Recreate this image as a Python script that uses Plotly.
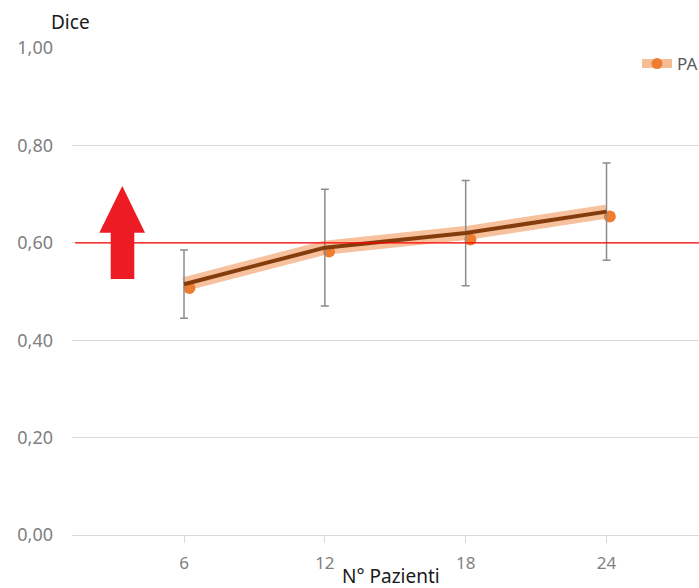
import plotly.graph_objects as go

# ---- data ----
pazienti = [6, 12, 18, 24]
dice_trend = [0.515, 0.590, 0.620, 0.664]
dice_err = [0.070, 0.120, 0.108, 0.100]
dot_x = [6.23, 12.18, 18.2, 24.14]
dice_pa = [0.507, 0.582, 0.607, 0.654]
threshold = 0.60
y_ticks = [0.0, 0.2, 0.4, 0.6, 0.8, 1.0]
series_name = "PA"

FONT = "Noto Sans"
GRAY_TXT = "#7F7F7F"
GRID = "#D9D9D9"

fig = go.Figure()

# light halo line
fig.add_trace(go.Scatter(
    x=pazienti, y=dice_trend, mode="lines",
    line=dict(color="rgba(244,177,131,0.8)", width=14, shape="linear"),
    hoverinfo="skip", showlegend=False))

# orange points
fig.add_trace(go.Scatter(
    x=dot_x, y=dice_pa, mode="markers",
    marker=dict(color="#ED7D31", size=12),
    showlegend=False))

# dark line with error bars
fig.add_trace(go.Scatter(
    x=pazienti, y=dice_trend, mode="lines",
    line=dict(color="#843C0C", width=4),
    error_y=dict(type="data", array=dice_err, visible=True,
                 color="#8C8C8C", thickness=1.5, width=4),
    showlegend=False))

# legend-only entry
fig.add_trace(go.Scatter(
    x=[None], y=[None], mode="lines+markers", name=series_name,
    line=dict(color="rgba(244,177,131,0.85)", width=9),
    marker=dict(color="#ED7D31", size=11),
    showlegend=True))

# threshold line
fig.add_shape(type="line", xref="paper", yref="y", x0=0.005, x1=1,
              y0=threshold, y1=threshold,
              line=dict(color="#FF0000", width=1.2), layer="above")

# red up arrow
fig.add_shape(type="path", xref="x", yref="y",
              path="M 2.877 0.5257 L 2.877 0.6207 L 2.391 0.6207 L 3.371 0.7166 "
                   "L 4.338 0.6207 L 3.882 0.6207 L 3.882 0.5257 Z",
              fillcolor="#ED1C24", line=dict(width=0), layer="above")

fig.add_annotation(text="Dice", xref="paper", yref="paper", x=-0.0016, y=1.053,
                   showarrow=False, xanchor="center", yanchor="middle",
                   font=dict(family=FONT, size=19, color="#1a1a1a"))
fig.add_annotation(text="N° Pazienti", xref="paper", yref="paper", x=0.509, y=-0.084,
                   showarrow=False, xanchor="center", yanchor="middle",
                   font=dict(family=FONT, size=19, color="#1a1a1a"))

fig.update_layout(
    width=699, height=588,
    margin=dict(l=72, r=0, t=48, b=53, autoexpand=False),
    paper_bgcolor="white", plot_bgcolor="white",
    separators=",.",
    font=dict(family=FONT, color=GRAY_TXT),
    showlegend=True,
    legend=dict(x=(637 - 72) / 627, y=1 + 2 / 487, xanchor="left", yanchor="top",
                bgcolor="rgba(0,0,0,0)", font=dict(family=FONT, size=17, color="#595959"),
                borderwidth=0),
    xaxis=dict(range=[1.228, 27.94], tickvals=pazienti, ticktext=[str(v) for v in pazienti],
               showgrid=False, zeroline=False, showline=True, linecolor=GRID, linewidth=1,
               ticks="outside", ticklen=7, tickcolor=GRID, tickwidth=1, automargin=False,
               tickfont=dict(family=FONT, size=17, color=GRAY_TXT),
               ticklabelstandoff=6),
    yaxis=dict(range=[0, 1], tickvals=y_ticks, tickformat=".2f", automargin=False,
               showgrid=True, gridcolor=GRID, gridwidth=1, zeroline=False, showline=False,
               ticks="", tickfont=dict(family=FONT, size=18, color=GRAY_TXT),
               ticklabelstandoff=18),
)

fig.write_html(
    "out.html",
    config={"displayModeBar": False},
    post_script="document.body.style.margin='0';document.body.style.overflow='hidden';",
)
